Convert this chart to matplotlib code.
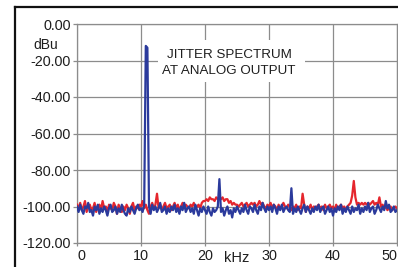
import numpy as np
import matplotlib
matplotlib.use("Agg")
import matplotlib.pyplot as plt
from matplotlib.lines import Line2D
from matplotlib.patches import Rectangle

plt.rcParams['font.family'] = ['Liberation Sans', 'DejaVu Sans']
plt.rcParams['axes.unicode_minus'] = False

# frequency axis, kHz (0.25 kHz bins)
freq_khz = [i * 0.25 for i in range(201)]

blue_dbu = [
    -100, -103, -99, -102, -104, -100, -101, -98, -103, -102,
    -105, -100, -102, -99, -104, -101, -103, -100, -102, -105,
    -101, -99, -103, -102, -100, -104, -101, -103, -99, -102,
    -104, -105, -101, -103, -100, -102, -104, -101, -99, -102,
    -101, -103, -99, -12, -13, -100, -104, -99, -102, -100,
    -103, -101, -98, -103, -102, -100, -104, -101, -103, -100,
    -102, -99, -103, -101, -104, -100, -102, -98, -103, -101,
    -100, -103, -101, -104, -99, -102, -105, -101, -103, -100,
    -102, -104, -100, -103, -105, -101, -103, -102, -100, -85,
    -103, -101, -105, -102, -100, -104, -102, -106, -101, -103,
    -100, -102, -104, -101, -103, -99, -102, -104, -100, -101,
    -103, -99, -102, -104, -100, -102, -98, -101, -103, -100,
    -102, -100, -103, -99, -101, -104, -100, -102, -99, -103,
    -101, -100, -102, -103, -90, -104, -101, -103, -100, -102,
    -104, -101, -99, -103, -100, -102, -104, -101, -103, -100,
    -102, -99, -103, -101, -100, -104, -102, -100, -103, -101,
    -105, -101, -103, -100, -102, -99, -104, -101, -103, -100,
    -102, -104, -100, -103, -101, -102, -99, -104, -101, -103,
    -100, -102, -98, -103, -101, -100, -104, -102, -99, -101,
    -103, -100, -102, -97, -101, -99, -103, -102, -100, -103,
    -102,
]

red_dbu = [
    -99, -101, -98, -102, -100, -97, -103, -100, -99, -102,
    -101, -98, -103, -100, -99, -102, -97, -101, -100, -103,
    -99, -101, -102, -98, -100, -104, -99, -101, -103, -100,
    -102, -99, -101, -104, -100, -98, -102, -100, -101, -99,
    -100, -97, -101, -99, -102, -104, -100, -98, -101, -99,
    -93, -101, -99, -102, -100, -98, -101, -100, -99, -102,
    -100, -98, -101, -99, -102, -100, -98, -101, -99, -100,
    -101, -99, -100, -98, -101, -100, -99, -101, -98, -97,
    -97, -96, -97, -95, -96, -96, -97, -95, -96, -95,
    -96, -95, -97, -96, -96, -98, -97, -99, -98, -99,
    -99, -100, -99, -98, -100, -99, -98, -100, -99, -98,
    -99, -98, -100, -99, -97, -99, -98, -100, -101, -99,
    -100, -98, -101, -99, -100, -102, -99, -101, -100, -98,
    -100, -101, -99, -100, -102, -100, -101, -99, -102, -100,
    -101, -93, -99, -103, -100, -101, -99, -102, -100, -101,
    -100, -99, -101, -100, -102, -99, -101, -100, -99, -101,
    -100, -102, -99, -101, -100, -99, -101, -100, -102, -100,
    -99, -98, -94, -86, -95, -99, -98, -99, -98, -99,
    -98, -99, -98, -99, -98, -97, -99, -98, -99, -95,
    -100, -99, -101, -100, -102, -101, -100, -102, -101, -100,
    -101,
]

x_ticks = [0, 10, 20, 30, 40, 50]
y_ticks = [0, -20, -40, -60, -80, -100, -120]
y_labels = ["0.00", "-20.00", "-40.00", "-60.00", "-80.00", "-100.00", "-120.00"]
title_lines = ["JITTER SPECTRUM", "AT ANALOG OUTPUT"]

W, H = 398, 267
fig = plt.figure(figsize=(W / 100, H / 100), dpi=100)
fig.patch.set_facecolor('white')

L, R, T, B = 77, 397, 24, 243
ax = fig.add_axes([L / W, (H - B) / H, (R - L) / W, (B - T) / H])
ax.set_xlim(0, 50)
ax.set_ylim(-120, 0)

grid_c = '#8c8c8c'
txt_c = '#1e1e1e'
for s in ax.spines.values():
    s.set_color(grid_c)
    s.set_linewidth(0.9)
ax.set_xticks(x_ticks)
ax.set_xticklabels([str(v) for v in x_ticks])
ax.set_yticks(y_ticks)
ax.set_yticklabels(y_labels)
ax.grid(True, color=grid_c, linewidth=0.9)
ax.tick_params(axis='y', length=3, width=0.9, color=grid_c, pad=1.5, labelsize=10.4, labelcolor=txt_c)
ax.tick_params(axis='x', length=2, width=0.9, color=grid_c, pad=2, labelsize=10.4, labelcolor=txt_c)
xl = ax.get_xticklabels()
xl[0].set_ha('left')
xl[-1].set_ha('right')

ax.plot(freq_khz, red_dbu, color='#e5262d', linewidth=1.6, zorder=3)
ax.plot(freq_khz, blue_dbu, color='#2b3a9c', linewidth=1.6, zorder=4)

# white title box
ax.add_patch(Rectangle((0.253, 0.735), 0.46, 0.192, transform=ax.transAxes,
                       facecolor='white', edgecolor='none', zorder=2.5))
ax.text(23.75, -16.9, title_lines[0], ha='center', va='center', fontsize=9.6, color=txt_c, zorder=5)
ax.text(23.75, -25.6, title_lines[1], ha='center', va='center', fontsize=9.6, color=txt_c, zorder=5)

# units
fig.text(46 / W, 1 - 45 / H, "dBu", ha='center', va='center', fontsize=10, color=txt_c)
fig.text(236.5 / W, 1 - 258 / H, "kHz", ha='center', va='center', fontsize=10.5, color=txt_c)

# outer frame lines
fig.add_artist(Line2D([15 / W, 15 / W], [0, 1 - 7 / H], transform=fig.transFigure, color='#111111', linewidth=1.6))
fig.add_artist(Line2D([15 / W, 1.0], [1 - 7 / H, 1 - 7 / H], transform=fig.transFigure, color='#111111', linewidth=1.6))

fig.savefig('out.png', dpi=100)
